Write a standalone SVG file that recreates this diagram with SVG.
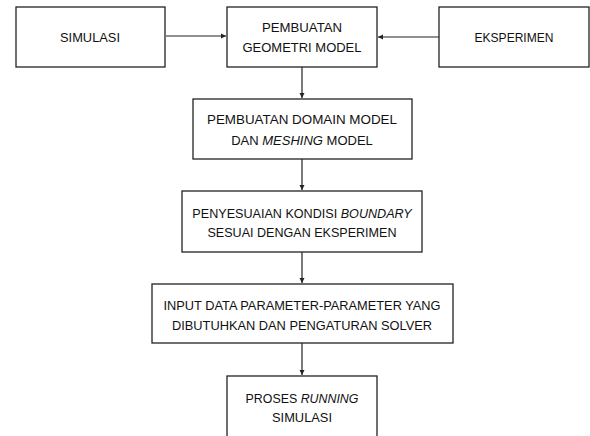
<svg xmlns="http://www.w3.org/2000/svg" width="590" height="436" viewBox="0 0 590 436">
<style>
.box{fill:#fff;stroke:#222;stroke-width:1.3}
.t{font-family:"Liberation Sans",Arial,sans-serif;font-size:13.5px;fill:#111;text-anchor:middle}
.i{font-style:italic}
.c{stroke:#222;stroke-width:1.2;fill:none}
</style>
<defs>
<marker id="ah" markerWidth="6" markerHeight="6" refX="5" refY="3" orient="auto" markerUnits="userSpaceOnUse">
<path d="M0,0.5 L5,3 L0,5.5 Z" fill="#222"/>
</marker>
</defs>
<rect width="590" height="436" fill="#fff"/>
<g id="connectors">
<line class="c" x1="166" y1="36" x2="226" y2="36" stroke-width="2" marker-end="url(#ah)"/>
<line class="c" x1="439" y1="37" x2="378" y2="37" marker-end="url(#ah)"/>
<line class="c" x1="302" y1="67" x2="302" y2="98" marker-end="url(#ah)"/>
<line class="c" x1="302" y1="159" x2="302" y2="190" marker-end="url(#ah)"/>
<line class="c" x1="302" y1="252" x2="302" y2="283" marker-end="url(#ah)"/>
<line class="c" x1="302" y1="343" x2="302" y2="375" marker-end="url(#ah)"/>
</g>
<g id="simulasi">
<rect class="box" x="16" y="7" width="149" height="60"/>
<text class="t" x="90" y="42" textLength="60" lengthAdjust="spacingAndGlyphs">SIMULASI</text>
</g>
<g id="geometri">
<rect class="box" x="227" y="7" width="150" height="60"/>
<text class="t" x="302" y="32" textLength="80" lengthAdjust="spacingAndGlyphs">PEMBUATAN</text>
<text class="t" x="302" y="52" textLength="119" lengthAdjust="spacingAndGlyphs">GEOMETRI MODEL</text>
</g>
<g id="eksperimen">
<rect class="box" x="439" y="7" width="150" height="60"/>
<text class="t" x="514" y="42" textLength="79" lengthAdjust="spacingAndGlyphs">EKSPERIMEN</text>
</g>
<g id="domain">
<rect class="box" x="193" y="99" width="219" height="60"/>
<text class="t" x="302" y="124" textLength="190" lengthAdjust="spacingAndGlyphs">PEMBUATAN DOMAIN MODEL</text>
<text class="t" x="302" y="145" style="font-size:13px">DAN <tspan class="i">MESHING</tspan> MODEL</text>
</g>
<g id="boundary">
<rect class="box" x="182" y="191" width="240" height="61"/>
<text class="t" x="302" y="218" style="font-size:12.6px">PENYESUAIAN KONDISI <tspan class="i">BOUNDARY</tspan></text>
<text class="t" x="302" y="237" textLength="189" lengthAdjust="spacingAndGlyphs">SESUAI DENGAN EKSPERIMEN</text>
</g>
<g id="input">
<rect class="box" x="152" y="284" width="301" height="59"/>
<text class="t" x="302" y="310" textLength="277" lengthAdjust="spacingAndGlyphs">INPUT DATA PARAMETER-PARAMETER YANG</text>
<text class="t" x="302" y="330" textLength="260" lengthAdjust="spacingAndGlyphs">DIBUTUHKAN DAN PENGATURAN SOLVER</text>
</g>
<g id="proses">
<rect class="box" x="227" y="376" width="150" height="70"/>
<text class="t" x="302" y="403" style="font-size:12.4px">PROSES <tspan class="i">RUNNING</tspan></text>
<text class="t" x="302" y="422" textLength="60" lengthAdjust="spacingAndGlyphs">SIMULASI</text>
</g>
</svg>
